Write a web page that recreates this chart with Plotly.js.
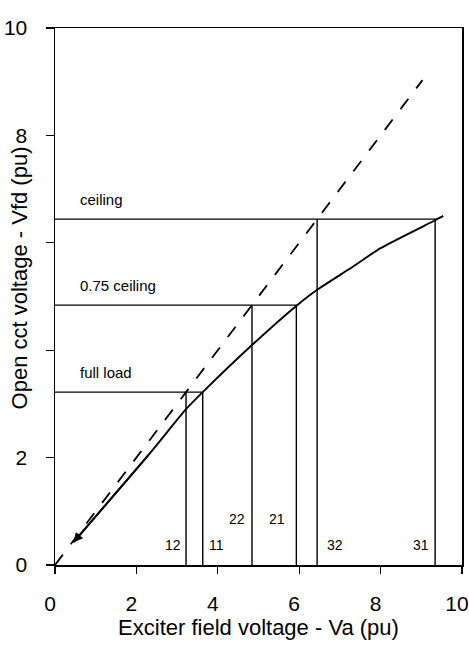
<!DOCTYPE html>
<html>
<head>
<meta charset="utf-8">
<script src="https://cdn.plot.ly/plotly-3.0.1.min.js"></script>
<style>html,body{margin:0;padding:0;background:#fff;}#chart{width:469px;height:657px;}</style>
</head>
<body>
<div id="chart"></div>
<script>
// Air-gap line (dashed), y = x
const airLineX = [0.0, 9.03];
const airLineY = [0.0, 9.03];
// Open-circuit characteristic (solid curve)
const occX = [0.45, 2.33, 3.24, 3.63, 4.86, 5.92, 6.45, 7.25, 8.0, 9.34, 9.54];
const occY = [0.42, 2.08, 2.92, 3.22, 4.11, 4.82, 5.13, 5.52, 5.90, 6.42, 6.50];
// Operating levels
const levelNames = ["full load", "0.75 ceiling", "ceiling"];
const levelValues = [3.22, 4.84, 6.44];
const airLineCross = [3.22, 4.84, 6.44];   // x where level meets dashed line
const occCross = [3.63, 5.93, 9.34];       // x where level meets solid curve
const airLabels = ["12", "22", "32"];
const occLabels = ["11", "21", "31"];
const xTicks = [0, 2, 4, 6, 8, 10];
const yTicks = [0, 2, 4, 6, 8, 10];
const yTickText = ["0", "2", "", "", "8", "10"];

const FONT = "Liberation Sans, Arial, Helvetica, sans-serif";
const traces = [];
traces.push({x: airLineX, y: airLineY, mode: "lines", line: {color: "#000", width: 1.8, dash: "13px,13px"}, hoverinfo: "skip"});
traces.push({x: occX, y: occY, mode: "lines", line: {color: "#000", width: 1.9, shape: "spline", smoothing: 0.6}, hoverinfo: "skip"});
for (let i = 0; i < levelValues.length; i++) {
  const L = levelValues[i];
  traces.push({x: [0, occCross[i], occCross[i]], y: [L, L, 0], mode: "lines", line: {color: "#000", width: 1.4}, hoverinfo: "skip"});
  traces.push({x: [airLineCross[i], airLineCross[i]], y: [L, 0], mode: "lines", line: {color: "#000", width: 1.4}, hoverinfo: "skip"});
}

const annotations = [];
// level names
for (let i = 0; i < levelNames.length; i++) {
  annotations.push({x: 0.56, y: levelValues[i], xref: "x", yref: "y", text: levelNames[i], showarrow: false,
    xanchor: "left", yanchor: "bottom", yshift: 9, font: {family: FONT, size: 15, color: "#000"}});
}
// line number labels
const numFont = {family: FONT, size: 14, color: "#000"};
annotations.push({x: airLineCross[0], y: 0.37, xref: "x", yref: "y", text: airLabels[0], showarrow: false, xanchor: "right", xshift: -3, font: numFont});
annotations.push({x: occCross[0], y: 0.37, xref: "x", yref: "y", text: occLabels[0], showarrow: false, xanchor: "left", xshift: 4, font: numFont});
annotations.push({x: airLineCross[1], y: 0.86, xref: "x", yref: "y", text: airLabels[1], showarrow: false, xanchor: "right", xshift: -5, font: numFont});
annotations.push({x: occCross[1], y: 0.86, xref: "x", yref: "y", text: occLabels[1], showarrow: false, xanchor: "right", xshift: -9, font: numFont});
annotations.push({x: airLineCross[2], y: 0.37, xref: "x", yref: "y", text: airLabels[2], showarrow: false, xanchor: "left", xshift: 8, font: numFont});
annotations.push({x: occCross[2], y: 0.37, xref: "x", yref: "y", text: occLabels[2], showarrow: false, xanchor: "right", xshift: -4, font: numFont});
// arrowhead at lower end of the solid curve
annotations.push({x: occX[0], y: occY[0], ax: occX[1], ay: occY[1], xref: "x", yref: "y", axref: "x", ayref: "y",
  text: "", showarrow: true, arrowhead: 2, arrowsize: 1, arrowwidth: 1.9, arrowcolor: "#000", standoff: 0});
// y-axis title
annotations.push({x: -0.088, y: 0.534, xref: "paper", yref: "paper", text: "Open cct voltage - Vfd (pu)", showarrow: false,
  textangle: -90, xanchor: "center", yanchor: "middle", font: {family: FONT, size: 22, color: "#000"}});

const layout = {
  width: 469, height: 657,
  margin: {l: 55, r: 7, t: 28, b: 92},
  paper_bgcolor: "#fff", plot_bgcolor: "#fff",
  showlegend: false,
  font: {family: FONT, color: "#000"},
  xaxis: {range: [0, 10], tickvals: xTicks, ticktext: xTicks.map(String), ticks: "outside", ticklen: 7, tickwidth: 1.3,
    tickcolor: "#000", showline: true, linecolor: "#000", linewidth: 1.5, mirror: true, showgrid: false, zeroline: false,
    tickfont: {family: FONT, size: 21, color: "#000"}, ticklabelshift: -5, ticklabelstandoff: 12,
    title: {text: "Exciter field voltage - Va (pu)", font: {family: FONT, size: 22, color: "#000"}, standoff: 4}},
  yaxis: {range: [0, 10], tickvals: yTicks, ticktext: yTickText, ticks: "outside", ticklen: 8, tickwidth: 1.3,
    tickcolor: "#000", showline: true, linecolor: "#000", linewidth: 1.5, mirror: true, showgrid: false, zeroline: false,
    tickfont: {family: FONT, size: 21, color: "#000"}, ticklabelstandoff: 14},
  annotations: annotations
};
Plotly.newPlot("chart", traces, layout, {displayModeBar: false, staticPlot: true});
</script>
</body>
</html>
